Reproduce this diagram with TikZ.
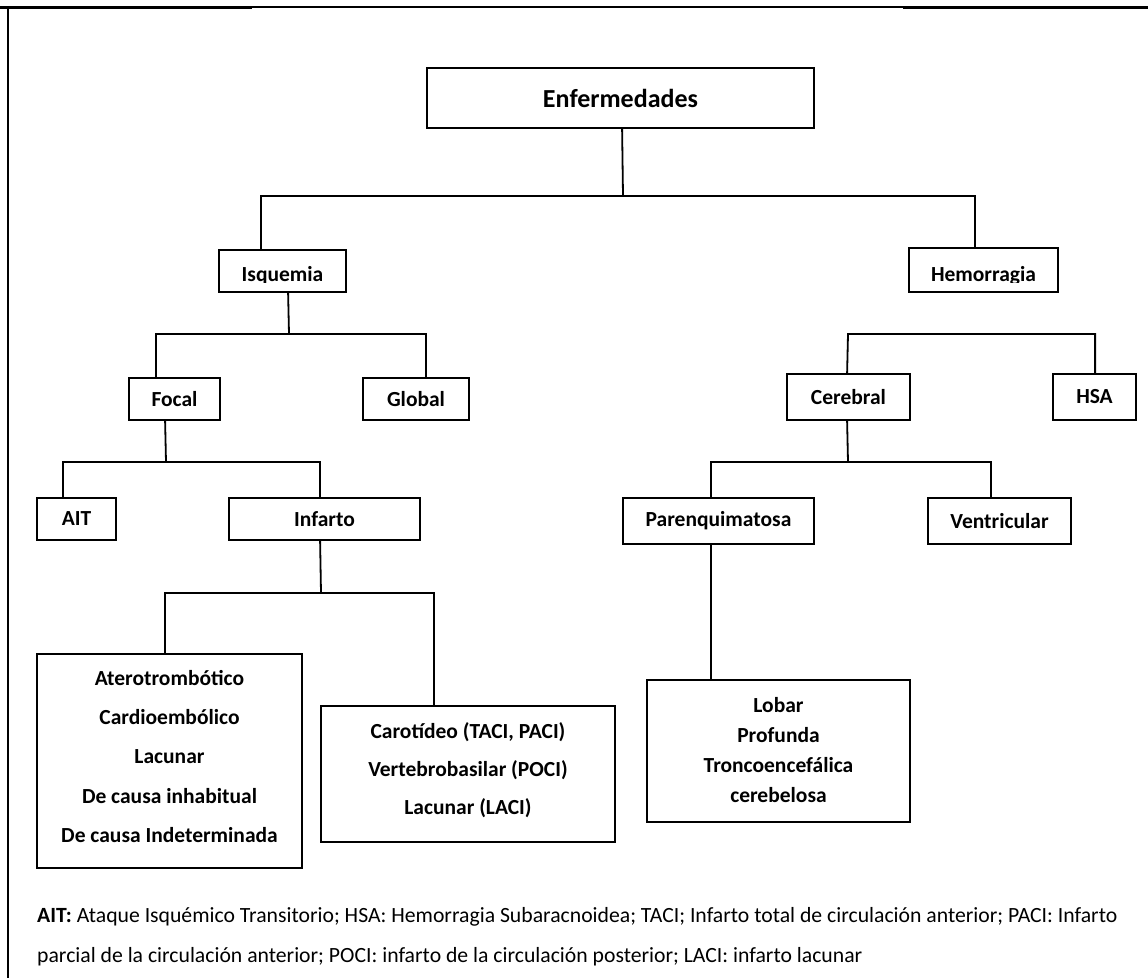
\documentclass[tikz,border=0pt]{standalone}
\usepackage{fontspec}
\setmainfont{Carlito}
\usetikzlibrary{calc}
\tikzset{
  box/.style={draw, line width=1.8pt, rectangle, inner sep=0pt, font=\fontsize{21.5}{25}\selectfont\bfseries},
  lbl/.style={inner sep=0pt, font=\fontsize{21.5}{25}\selectfont\bfseries, align=center},
  conn/.style={draw, line width=1.8pt},
  note/.style={inner sep=0pt, anchor=base west, font=\fontsize{21.7}{25}\selectfont},
}
\begin{document}
\begin{tikzpicture}[x=1pt,y=-1pt]
\useasboundingbox (0,0) rectangle (1148,978);
% frame
\draw[line width=2.5pt] (8,7) -- (8,978);
\draw[line width=3pt] (0,7) -- (252,7);
\draw[line width=1.5pt] (252,7) -- (903,7);
\draw[line width=3pt] (903,7) -- (1148,7);

% boxes
\node[box, minimum width=387, minimum height=60, font=\fontsize{26}{30}\selectfont\bfseries] (enf) at (620.5,98) {Enfermedades};
\node[box, minimum width=127, minimum height=42] (isq) at (282.5,271) {};
\node[box, minimum width=149, minimum height=44] (hem) at (983.5,270) {};
\begin{scope}
  \clip (219,250) rectangle (346,282.5);
  \node[lbl, anchor=base] (isqt) at (282.5,281) {Isquemia};
\end{scope}
\begin{scope}
  \clip (909,248) rectangle (1058,282.5);
  \node[lbl, anchor=base] (hemt) at (983.5,281) {Hemorragia};
\end{scope}
\node[box, minimum width=91, minimum height=42] (foc) at (174.5,399) {Focal};
\node[box, minimum width=106, minimum height=42] (glo) at (416,399) {Global};
\node[box, minimum width=123, minimum height=46] (cer) at (848.5,397) {Cerebral};
\node[box, minimum width=83, minimum height=46] (hsa) at (1094.5,397) {HSA};
\node[box, minimum width=79, minimum height=42] (ait) at (76.5,519) {AIT};
\node[box, minimum width=191, minimum height=42] (inf) at (324.5,519) {Infarto};
\node[box, minimum width=191, minimum height=46] (par) at (718.5,521) {Parenquimatosa};
\node[box, minimum width=143, minimum height=46] (ven) at (999.5,521) {Ventricular};

\node[box, minimum width=265, minimum height=214] (lb) at (169.5,761) {};
\node[lbl, font=\fontsize{21.5}{39.3}\selectfont\bfseries] (lbt) at (169.5,756.5) {Aterotrombótico\\Cardioembólico\\Lacunar\\De causa inhabitual\\De causa Indeterminada};
\node[box, minimum width=294, minimum height=136] (rb) at (468,774) {};
\node[lbl, font=\fontsize{21.5}{38}\selectfont\bfseries] (rbt) at (468,770) {Carotídeo (TACI, PACI)\\Vertebrobasilar (POCI)\\Lacunar (LACI)};
\node[box, minimum width=263, minimum height=142] (lob) at (778.5,751) {};
\node[lbl, font=\fontsize{21.5}{30}\selectfont\bfseries] (lobt) at (778.5,750) {Lobar\\Profunda\\Troncoencefálica\\cerebelosa};

% connectors
\coordinate (bus1) at (623,196);
\draw[conn] ($(enf.south west)+(196,0)$) -- (bus1);
\draw[conn] ($(isq.north west)+(43,0)$) |- (bus1) -| ($(hem.north west)+(67,0)$);

\coordinate (bus2) at (289,334);
\draw[conn] ($(isq.south west)+(70,0)$) -- (bus2);
\draw[conn] ($(foc.north west)+(28,0)$) |- (bus2) -| ($(glo.north west)+(64,0)$);

\coordinate (bus3) at (166,462);
\draw[conn] ($(foc.south west)+(37,0)$) -- (bus3);
\draw[conn] ($(ait.north west)+(26.5,0)$) |- (bus3) -| ($(inf.north west)+(92,0)$);

\coordinate (bus4) at (321,593);
\draw[conn] ($(inf.south west)+(92,0)$) -- (bus4);
\draw[conn] ($(lb.north west)+(129,0)$) |- (bus4) -| ($(rb.north west)+(114,0)$);

\coordinate (bus5) at (848,334);
\draw[conn] ($(cer.north west)+(61,0)$) -- (bus5) -| ($(hsa.north west)+(43,0)$);

\coordinate (bus6) at (848,462);
\draw[conn] ($(cer.south west)+(61,0)$) -- (bus6);
\draw[conn] ($(par.north west)+(89,0)$) |- (bus6) -| ($(ven.north west)+(64,0)$);

\draw[conn] ($(par.south west)+(89,0)$) -- ($(lob.north west)+(65,0)$);

% footnote
\node[note] (n1) at (37,922) {\textbf{AIT:} Ataque Isquémico Transitorio; HSA: Hemorragia Subaracnoidea; TACI; Infarto total de circulación anterior; PACI: Infarto};
\node[note] (n2) at (37,962) {parcial de la circulación anterior; POCI: infarto de la circulación posterior; LACI: infarto lacunar};
\end{tikzpicture}
\end{document}
